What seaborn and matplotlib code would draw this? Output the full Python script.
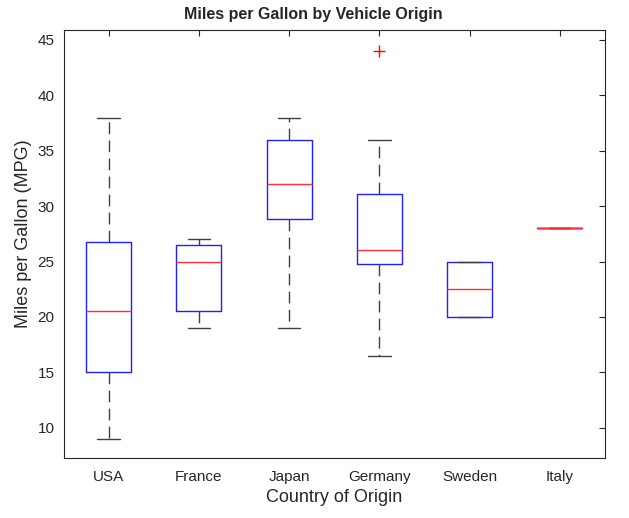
import seaborn as sns
import matplotlib.pyplot as plt
import pandas as pd

# mpg samples per origin (chosen so the quartiles match the chart)
usa = [9, 13, 15, 18, 20.5, 24, 26.8, 32, 38]
france = [19, 20.5, 25, 26.5, 27]
japan = [19, 28.8, 32, 36, 38]
germany = [16.5, 24, 24.8, 25.5, 26, 29, 31.1, 36, 44]
sweden = [20, 20, 22.5, 25, 25]
italy = [28]
origins = ["USA", "France", "Japan", "Germany", "Sweden", "Italy"]

groups = [usa, france, japan, germany, sweden, italy]
df = pd.DataFrame({
    "origin": [o for o, g in zip(origins, groups) for _ in g],
    "mpg": [v for g in groups for v in g],
})

sns.set_style("white")
plt.rcParams["font.family"] = ["Liberation Sans", "DejaVu Sans"]

fig = plt.figure(figsize=(6.29, 5.18), dpi=100)
ax = fig.add_axes([63.5 / 629, 1 - 457.7 / 518, 541.5 / 629, 427.7 / 518])

sns.boxplot(data=df, x="origin", y="mpg", order=origins, ax=ax,
            width=0.5, fill=False, whis=1.5, linewidth=1,
            boxprops=dict(color="#2020ff"),
            medianprops=dict(color="#ff3030", zorder=5),
            whiskerprops=dict(color="#404040", linestyle=(0, (8.5, 4.5))),
            capprops=dict(color="#404040"),
            flierprops=dict(marker="+", markeredgecolor="red", markersize=8,
                            markeredgewidth=1))

ax.set_xlim(-0.5, 5.5)
ax.set_ylim(7.3, 45.9)
ax.set_yticks(range(10, 50, 5))
ax.tick_params(direction="in", length=4, top=True, right=True,
               labelsize=11, colors="#262626", width=0.8)
ax.tick_params(axis="x", pad=8.5)
ax.tick_params(axis="y", pad=6.5)
for s in ax.spines.values():
    s.set_color("#262626")
    s.set_linewidth(0.8)
ax.set_xlabel("Country of Origin", fontsize=13, color="#262626", labelpad=4)
ax.set_ylabel("Miles per Gallon (MPG)", fontsize=13, color="#262626")
ax.yaxis.set_label_coords(-0.0575, 0.523)
ax.set_title("Miles per Gallon by Vehicle Origin", fontsize=11.5,
             fontweight="bold", x=0.461, pad=8)

fig.savefig("out.png", dpi=100)
